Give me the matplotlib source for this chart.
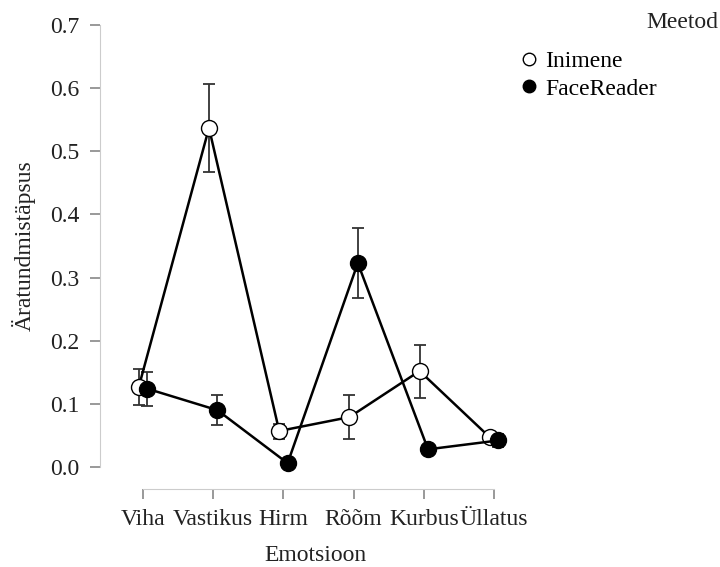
import matplotlib.pyplot as plt
import numpy as np

plt.rcParams['font.family'] = ['Liberation Serif', 'DejaVu Serif']

emotions = ['Viha', 'Vastikus', 'Hirm', 'Rõõm', 'Kurbus', 'Üllatus']

inimene = [0.127, 0.537, 0.057, 0.079, 0.152, 0.047]
inimene_lo = [0.098, 0.467, 0.045, 0.045, 0.110, 0.040]
inimene_hi = [0.155, 0.607, 0.068, 0.114, 0.193, 0.053]

facereader = [0.124, 0.090, 0.006, 0.323, 0.028, 0.042]
facereader_lo = [0.097, 0.067, 0.002, 0.268, 0.023, 0.031]
facereader_hi = [0.150, 0.114, 0.010, 0.378, 0.033, 0.053]

fig = plt.figure(figsize=(7.2, 5.67), dpi=100)
ax = fig.add_axes([100 / 720, 1 - 467 / 567, 430 / 720, 442 / 567])

x = np.arange(len(emotions))
dodge = 0.06
fs = 17

series = [
    ('Inimene', inimene, inimene_lo, inimene_hi, 'white', -dodge),
    ('FaceReader', facereader, facereader_lo, facereader_hi, 'black', dodge),
]

handles = []
for name, vals, lo, hi, fc, off in series:
    vals = np.array(vals)
    err = [vals - np.array(lo), np.array(hi) - vals]
    ax.errorbar(x + off, vals, yerr=err, fmt='none', ecolor='#333333',
                elinewidth=1.3, capsize=4, capthick=1.3, zorder=2, clip_on=False)
    h, = ax.plot(x + off, vals, color='black', lw=1.8, marker='o', markersize=11.5,
                 markerfacecolor=fc, markeredgecolor='black', markeredgewidth=1,
                 zorder=3, clip_on=False, label=name)
    handles.append(h)

ax.set_xlim(-43 / 70.2, 5 + 36 / 70.2)
ax.set_ylim(0, 0.7)
ax.set_yticks(np.arange(0, 0.71, 0.1))
ax.set_yticklabels([f'{v:.1f}' for v in np.arange(0, 0.71, 0.1)])
ax.set_xticks(x)
ax.set_xticklabels(emotions)

for s in ['top', 'right']:
    ax.spines[s].set_visible(False)
ax.spines['left'].set_bounds(0, 0.7)
ax.spines['left'].set_color('#cccccc')
ax.spines['bottom'].set_bounds(0, 5)
ax.spines['bottom'].set_position(('outward', 16))
ax.spines['bottom'].set_color('#cccccc')
ax.tick_params(axis='both', colors='#888888', labelcolor='#222222',
               labelsize=fs, length=7, width=1.2)
ax.tick_params(axis='y', pad=8)
ax.tick_params(axis='x', pad=7)

ax.set_ylabel('Äratundmistäpsus', fontsize=fs, color='#222222', labelpad=10)
ax.set_xlabel('Emotsioon', fontsize=fs, color='#222222', labelpad=11)

leg = fig.legend(handles=[plt.Line2D([], [], ls='none', marker='o', markersize=9,
                                     markerfacecolor=h.get_markerfacecolor(),
                                     markeredgecolor='black') for h in handles],
                 labels=[h.get_label() for h in handles],
                 loc='upper left', bbox_to_anchor=(509 / 720, 1 - 39 / 567),
                 frameon=False, fontsize=fs, handlelength=0.7, handletextpad=0.35,
                 labelspacing=0.25, borderpad=0)
fig.text(718 / 720, 1 - 22 / 567, 'Meetod', ha='right', va='center', fontsize=fs,
         color='#222222')

fig.savefig('out.png', dpi=100)
